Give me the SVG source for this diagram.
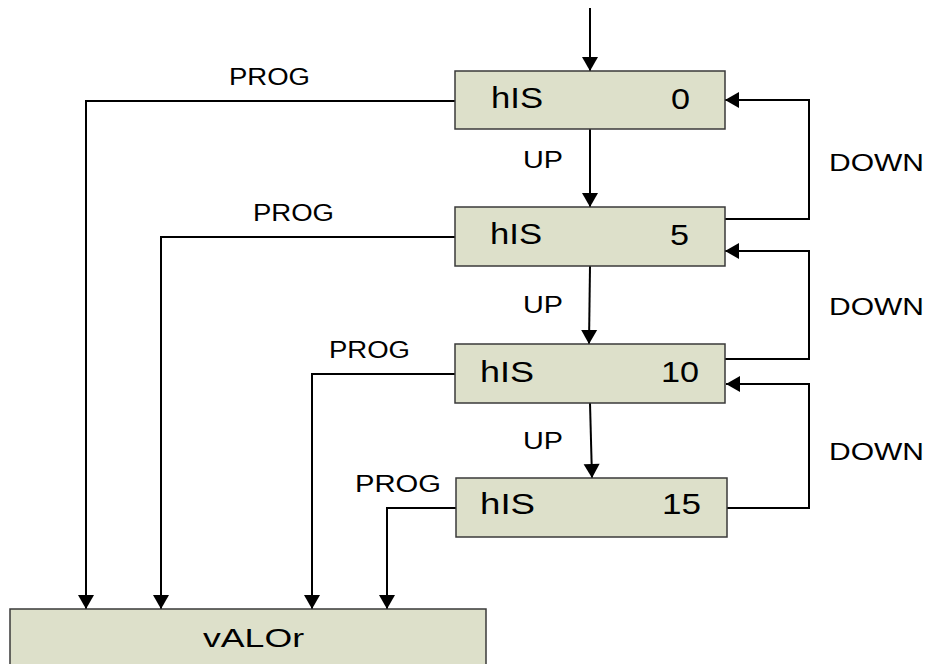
<svg xmlns="http://www.w3.org/2000/svg" width="930" height="664" viewBox="0 0 930 664">
<style>
.box{fill:#dde0ca;stroke:#3a3a3a;stroke-width:1.5}
.ln{fill:none;stroke:#000;stroke-width:2;marker-end:url(#ah)}
.t{font-family:"Liberation Sans",Arial,sans-serif;fill:#000}
.bt{font-size:30px}
.lt{font-size:23px}
</style>
<defs>
<marker id="ah" markerUnits="userSpaceOnUse" markerWidth="18" markerHeight="18" refX="14" refY="8" orient="auto" viewBox="0 0 18 18" overflow="visible">
<path d="M0,0 L14,8 L0,16 Z" fill="#000"/>
</marker>
</defs>
<rect width="930" height="664" fill="#fff"/>
<g id="connectors">
<line class="ln" x1="590" y1="8" x2="590" y2="71"/>
<line class="ln" x1="590" y1="129" x2="590" y2="207"/>
<line class="ln" x1="590" y1="266" x2="589" y2="344"/>
<line class="ln" x1="590" y1="403" x2="592" y2="478"/>
<polyline class="ln" points="725,219 809,219 809,100 725,100"/>
<polyline class="ln" points="725,359 809,359 809,251 725,251"/>
<polyline class="ln" points="727,508 809,508 809,384 726,384"/>
<polyline class="ln" points="455,101 86,101 86,609"/>
<polyline class="ln" points="455,237 161,237 161,609"/>
<polyline class="ln" points="455,374 312,374 312,609"/>
<polyline class="ln" points="456,508 387,508 387,609"/>
<text class="t lt" x="229" y="85" textLength="81" lengthAdjust="spacingAndGlyphs">PROG</text>
<text class="t lt" x="253" y="221" textLength="81" lengthAdjust="spacingAndGlyphs">PROG</text>
<text class="t lt" x="329" y="358" textLength="81" lengthAdjust="spacingAndGlyphs">PROG</text>
<text class="t lt" x="355" y="492" textLength="86" lengthAdjust="spacingAndGlyphs">PROG</text>
<text class="t lt" x="523" y="168" textLength="40" lengthAdjust="spacingAndGlyphs">UP</text>
<text class="t lt" x="523" y="313" textLength="40" lengthAdjust="spacingAndGlyphs">UP</text>
<text class="t lt" x="523" y="449" textLength="40" lengthAdjust="spacingAndGlyphs">UP</text>
<text class="t lt" x="829" y="171" textLength="95" lengthAdjust="spacingAndGlyphs">DOWN</text>
<text class="t lt" x="829" y="315" textLength="95" lengthAdjust="spacingAndGlyphs">DOWN</text>
<text class="t lt" x="829" y="460" textLength="95" lengthAdjust="spacingAndGlyphs">DOWN</text>
</g>
<g id="n0">
<rect class="box" x="455" y="71" width="270" height="58"/>
<text class="t bt" x="491" y="108" textLength="52" lengthAdjust="spacingAndGlyphs">hIS</text>
<text class="t bt" x="671" y="109" textLength="19" lengthAdjust="spacingAndGlyphs">0</text>
</g>
<g id="n5">
<rect class="box" x="455" y="207" width="270" height="59"/>
<text class="t bt" x="490" y="244" textLength="52" lengthAdjust="spacingAndGlyphs">hIS</text>
<text class="t bt" x="670" y="245" textLength="19" lengthAdjust="spacingAndGlyphs">5</text>
</g>
<g id="n10">
<rect class="box" x="455" y="344" width="270" height="59"/>
<text class="t bt" x="480" y="382" textLength="54" lengthAdjust="spacingAndGlyphs">hIS</text>
<text class="t bt" x="661" y="382" textLength="38" lengthAdjust="spacingAndGlyphs">10</text>
</g>
<g id="n15">
<rect class="box" x="456" y="478" width="271" height="59"/>
<text class="t bt" x="480" y="514" textLength="55" lengthAdjust="spacingAndGlyphs">hIS</text>
<text class="t bt" x="662" y="514" textLength="39" lengthAdjust="spacingAndGlyphs">15</text>
</g>
<g id="valor">
<rect class="box" x="10" y="609" width="476" height="70"/>
<text class="t" font-size="26" x="203" y="647" textLength="101" lengthAdjust="spacingAndGlyphs">vALOr</text>
</g>
</svg>
